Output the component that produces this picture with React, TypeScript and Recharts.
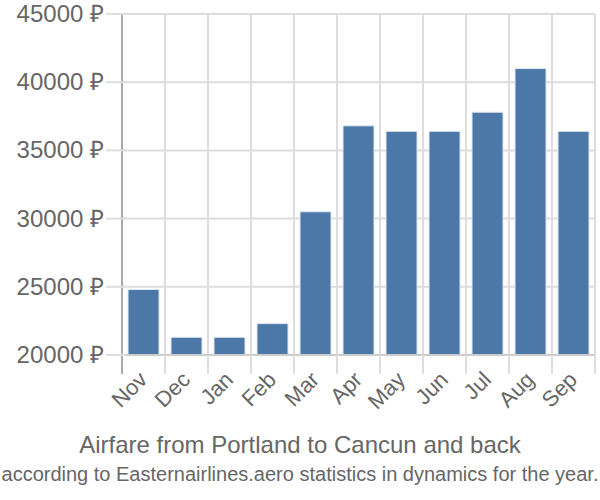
import React from "react";
import { BarChart, Bar, XAxis, YAxis, CartesianGrid } from "recharts";

const months = ["Nov", "Dec", "Jan", "Feb", "Mar", "Apr", "May", "Jun", "Jul", "Aug", "Sep"];
const prices = [24800, 21300, 21300, 22300, 30500, 36800, 36400, 36400, 37800, 41000, 36400];
const yTicks = [20000, 25000, 30000, 35000, 40000, 45000];

const data = months.map((m, i) => ({ month: m, price: prices[i] }));

const FONT = "'Liberation Sans', Arial, sans-serif";
const N = months.length;

const XTick = (props: any) => {
  const { x, y, payload, index, width } = props;
  const band = width / N;
  const left = x - band / 2;
  const isLast = index === N - 1;
  return (
    <g>
      <line x1={left} y1={y - 8} x2={left} y2={y + 11} stroke={index === 0 ? "#aaa" : "#ddd"} strokeWidth={2} />
      {isLast && (
        <line x1={left + band} y1={y - 8} x2={left + band} y2={y + 11} stroke="#ddd" strokeWidth={2} />
      )}
      <text
        x={x + 5}
        y={y + 18}
        textAnchor="end"
        fill="#666"
        fontSize={22}
        fontFamily={FONT}
        transform={`rotate(-45, ${x + 5}, ${y + 18})`}
      >
        {payload.value}
      </text>
    </g>
  );
};

const YTick = (props: any) => {
  const { x, y, payload } = props;
  return (
    <g>
      <line x1={x - 8} y1={y} x2={x + 12} y2={y} stroke="#ddd" strokeWidth={2} />
      <text x={x - 10} y={y + 8} textAnchor="end" fill="#666" fontSize={24} fontFamily={FONT}>
        {`${payload.value} ₽`}
      </text>
    </g>
  );
};

export default function App() {
  return (
    <div style={{ position: "absolute", left: 0, top: 0, width: 600, height: 500, background: "#fff", fontFamily: FONT }}>
      <BarChart
        width={600}
        height={500}
        data={data}
        margin={{ top: 14, right: 5, bottom: 85, left: 0 }}
        barCategoryGap="14%"
      >
        <CartesianGrid
          stroke="#ddd"
          strokeWidth={2}
          verticalCoordinatesGenerator={(p: any) => {
            const off = p.offset;
            const pts: number[] = [];
            for (let i = 0; i <= N; i++) pts.push(off.left + (i * off.width) / N);
            return pts;
          }}
        />
        <XAxis
          dataKey="month"
          height={60}
          interval={0}
          tickLine={false}
          axisLine={{ stroke: "#ccc", strokeWidth: 2 }}
          tick={<XTick />}
        />
        <YAxis
          width={122}
          domain={[20000, 45000]}
          ticks={yTicks}
          interval={0}
          tickLine={false}
          axisLine={{ stroke: "#aaa", strokeWidth: 2 }}
          tick={<YTick />}
          allowDataOverflow
        />
        <Bar dataKey="price" fill="#4c78a8" stroke="#dfe7f0" strokeWidth={1} isAnimationActive={false} />
      </BarChart>
      <div
        style={{
          position: "absolute",
          left: -50,
          top: 430,
          width: 700,
          textAlign: "center",
          fontSize: 24,
          color: "#666",
          lineHeight: "30px",
          whiteSpace: "nowrap",
        }}
      >
        Airfare from Portland to Cancun and back
      </div>
      <div
        style={{
          position: "absolute",
          left: -50,
          top: 460,
          width: 700,
          textAlign: "center",
          fontSize: 20,
          color: "#666",
          lineHeight: "28px",
          whiteSpace: "nowrap",
        }}
      >
        according to Easternairlines.aero statistics in dynamics for the year.
      </div>
    </div>
  );
}
